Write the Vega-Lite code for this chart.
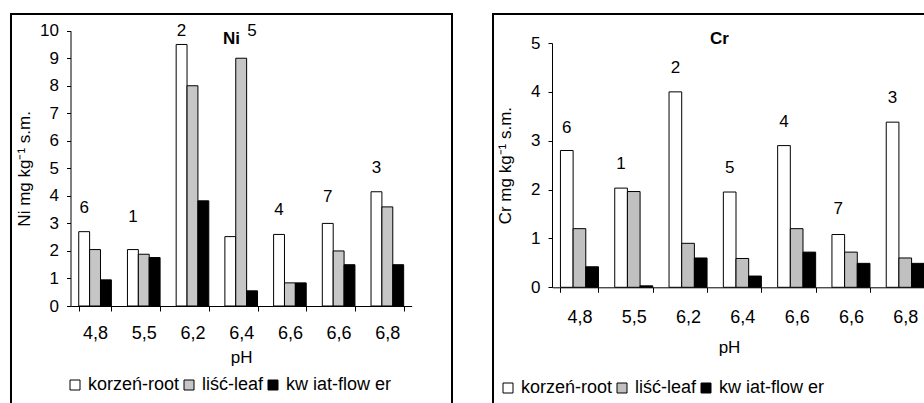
{
  "$schema": "https://vega.github.io/schema/vega-lite/v6.json",
  "padding": {"left": 10, "top": 13, "right": 0, "bottom": 0},
  "background": "white",
  "spacing": 39,
  "config": {
    "font": "Liberation Sans",
    "view": {"stroke": "black", "strokeWidth": 2},
    "axis": {
      "domainColor": "black", "tickColor": "black", "labelColor": "black", "titleColor": "black",
      "labelFont": "Liberation Sans", "titleFont": "Liberation Sans",
      "labelFontSize": 17, "titleFontSize": 17, "titleFontWeight": "normal",
      "grid": false, "tickSize": 4, "domainWidth": 1, "tickWidth": 1, "labelOverlap": false
    },
    "legend": {
      "symbolType": "square", "symbolSize": 100, "symbolStrokeColor": "black", "symbolStrokeWidth": 1,
      "labelFont": "Liberation Sans", "labelFontSize": 18, "labelColor": "black",
      "labelOffset": 4, "columnPadding": 0, "padding": 0, "labelLimit": 0
    }
  },
  "datasets": {
    "ni": [
      {"group": "4,8 #6", "part": "korzeń-root", "value": 2.7},
      {"group": "4,8 #6", "part": "liść-leaf", "value": 2.05},
      {"group": "4,8 #6", "part": "kw iat-flow er", "value": 0.95},
      {"group": "5,5 #1", "part": "korzeń-root", "value": 2.05},
      {"group": "5,5 #1", "part": "liść-leaf", "value": 1.88},
      {"group": "5,5 #1", "part": "kw iat-flow er", "value": 1.76},
      {"group": "6,2 #2", "part": "korzeń-root", "value": 9.5},
      {"group": "6,2 #2", "part": "liść-leaf", "value": 8.0},
      {"group": "6,2 #2", "part": "kw iat-flow er", "value": 3.82},
      {"group": "6,4 #5", "part": "korzeń-root", "value": 2.52},
      {"group": "6,4 #5", "part": "liść-leaf", "value": 9.0},
      {"group": "6,4 #5", "part": "kw iat-flow er", "value": 0.55},
      {"group": "6,6 #4", "part": "korzeń-root", "value": 2.6},
      {"group": "6,6 #4", "part": "liść-leaf", "value": 0.84},
      {"group": "6,6 #4", "part": "kw iat-flow er", "value": 0.84},
      {"group": "6,6 #7", "part": "korzeń-root", "value": 3.0},
      {"group": "6,6 #7", "part": "liść-leaf", "value": 2.0},
      {"group": "6,6 #7", "part": "kw iat-flow er", "value": 1.5},
      {"group": "6,8 #3", "part": "korzeń-root", "value": 4.15},
      {"group": "6,8 #3", "part": "liść-leaf", "value": 3.6},
      {"group": "6,8 #3", "part": "kw iat-flow er", "value": 1.5}
    ],
    "niLabels": [
      {"group": "4,8 #6", "part": "korzeń-root", "label": "6", "value": 3.55},
      {"group": "5,5 #1", "part": "korzeń-root", "label": "1", "value": 3.22},
      {"group": "6,2 #2", "part": "korzeń-root", "label": "2", "value": 10.0},
      {"group": "6,4 #5", "part": "kw iat-flow er", "label": "5", "value": 10.0},
      {"group": "6,6 #4", "part": "korzeń-root", "label": "4", "value": 3.48},
      {"group": "6,6 #7", "part": "korzeń-root", "label": "7", "value": 3.95},
      {"group": "6,8 #3", "part": "korzeń-root", "label": "3", "value": 5.0}
    ],
    "cr": [
      {"group": "4,8 #6", "part": "korzeń-root", "value": 2.8},
      {"group": "4,8 #6", "part": "liść-leaf", "value": 1.2},
      {"group": "4,8 #6", "part": "kw iat-flow er", "value": 0.42},
      {"group": "5,5 #1", "part": "korzeń-root", "value": 2.03},
      {"group": "5,5 #1", "part": "liść-leaf", "value": 1.96},
      {"group": "5,5 #1", "part": "kw iat-flow er", "value": 0.03},
      {"group": "6,2 #2", "part": "korzeń-root", "value": 4.0},
      {"group": "6,2 #2", "part": "liść-leaf", "value": 0.9},
      {"group": "6,2 #2", "part": "kw iat-flow er", "value": 0.6},
      {"group": "6,4 #5", "part": "korzeń-root", "value": 1.95},
      {"group": "6,4 #5", "part": "liść-leaf", "value": 0.59},
      {"group": "6,4 #5", "part": "kw iat-flow er", "value": 0.23},
      {"group": "6,6 #4", "part": "korzeń-root", "value": 2.9},
      {"group": "6,6 #4", "part": "liść-leaf", "value": 1.2},
      {"group": "6,6 #4", "part": "kw iat-flow er", "value": 0.72},
      {"group": "6,6 #7", "part": "korzeń-root", "value": 1.08},
      {"group": "6,6 #7", "part": "liść-leaf", "value": 0.72},
      {"group": "6,6 #7", "part": "kw iat-flow er", "value": 0.49},
      {"group": "6,8 #3", "part": "korzeń-root", "value": 3.38},
      {"group": "6,8 #3", "part": "liść-leaf", "value": 0.6},
      {"group": "6,8 #3", "part": "kw iat-flow er", "value": 0.49}
    ],
    "crLabels": [
      {"group": "4,8 #6", "part": "korzeń-root", "label": "6", "value": 3.26},
      {"group": "5,5 #1", "part": "korzeń-root", "label": "1", "value": 2.52},
      {"group": "6,2 #2", "part": "korzeń-root", "label": "2", "value": 4.49},
      {"group": "6,4 #5", "part": "korzeń-root", "label": "5", "value": 2.44},
      {"group": "6,6 #4", "part": "korzeń-root", "label": "4", "value": 3.38},
      {"group": "6,6 #7", "part": "korzeń-root", "label": "7", "value": 1.6},
      {"group": "6,8 #3", "part": "korzeń-root", "label": "3", "value": 3.87}
    ]
  },
  "hconcat": [
    {
      "width": 441,
      "height": 392,
      "title": {"text": "Ni", "fontSize": 17, "fontWeight": "bold", "anchor": "middle", "frame": "group", "offset": -47, "baseline": "alphabetic", "color": "black"},
      "encoding": {
        "x": {"field": "group", "type": "nominal", "sort": ["4,8 #6","5,5 #1","6,2 #2","6,4 #5","6,6 #4","6,6 #7","6,8 #3"],
              "scale": {"range": [59.7, 400.7], "paddingInner": 0.33, "paddingOuter": 0.165},
              "axis": {"title": "pH", "offset": -100, "labelExpr": "split(datum.label, ' #')[0]", "labelAngle": 0, "labelFontSize": 18, "tickBand": "extent", "tickSize": 5, "labelPadding": 13, "titlePadding": 7}},
        "xOffset": {"field": "part", "type": "nominal", "sort": ["korzeń-root","liść-leaf","kw iat-flow er"], "scale": {"paddingInner": 0, "paddingOuter": 0}},
        "y": {"field": "value", "type": "quantitative",
              "scale": {"domain": [0, 10], "range": [292, 16.7], "nice": false},
              "axis": {"title": "Ni mg kg⁻¹ s.m.", "values": [0,1,2,3,4,5,6,7,8,9,10], "format": "d", "labelOverlap": false, "offset": -59.5, "labelPadding": 8, "titlePadding": 6}}
      },
      "layer": [
        {
          "data": {"name": "ni"},
          "mark": {"type": "bar", "stroke": "black", "strokeWidth": 1},
          "encoding": {
            "fill": {"field": "part", "type": "nominal",
                     "scale": {"domain": ["korzeń-root","liść-leaf","kw iat-flow er"], "range": ["#ffffff","#c6c6c6","#000000"]},
                     "legend": {"title": null, "orient": "none", "direction": "horizontal", "legendX": 55, "legendY": 362}}
          }
        },
        {
          "data": {"name": "niLabels"},
          "mark": {"type": "text", "fontSize": 17, "font": "Liberation Sans", "fill": "black", "baseline": "middle", "align": "center"},
          "encoding": {
            "text": {"field": "label"}
          }
        }
      ]
    },
    {
      "width": 441,
      "height": 392,
      "title": {"text": "Cr", "fontSize": 17, "fontWeight": "bold", "anchor": "middle", "frame": "group", "offset": -47, "baseline": "alphabetic", "dx": 6, "color": "black"},
      "encoding": {
        "x": {"field": "group", "type": "nominal", "sort": ["4,8 #6","5,5 #1","6,2 #2","6,4 #5","6,6 #4","6,6 #7","6,8 #3"],
              "scale": {"range": [59.3, 439.4], "paddingInner": 0.3, "paddingOuter": 0.15},
              "axis": {"title": "pH", "offset": -118.7, "labelExpr": "split(datum.label, ' #')[0]", "labelAngle": 0, "labelFontSize": 18, "tickBand": "extent", "tickSize": 5, "labelPadding": 16, "titlePadding": 13, "titleX": 236}},
        "xOffset": {"field": "part", "type": "nominal", "sort": ["korzeń-root","liść-leaf","kw iat-flow er"], "scale": {"paddingInner": 0, "paddingOuter": 0}},
        "y": {"field": "value", "type": "quantitative",
              "scale": {"domain": [0, 5], "range": [273.3, 29], "nice": false},
              "axis": {"title": "Cr mg kg⁻¹ s.m.", "values": [0,1,2,3,4,5], "format": "d", "labelOverlap": false, "offset": -59, "labelPadding": 8, "titlePadding": 16}}
      },
      "layer": [
        {
          "data": {"name": "cr"},
          "mark": {"type": "bar", "stroke": "black", "strokeWidth": 1},
          "encoding": {
            "fill": {"field": "part", "type": "nominal",
                     "scale": {"domain": ["korzeń-root","liść-leaf","kw iat-flow er"], "range": ["#ffffff","#c0c0c0","#000000"]},
                     "legend": {"title": null, "orient": "none", "direction": "horizontal", "legendX": 6, "legendY": 365}}
          }
        },
        {
          "data": {"name": "crLabels"},
          "mark": {"type": "text", "fontSize": 17, "font": "Liberation Sans", "fill": "black", "baseline": "middle", "align": "center"},
          "encoding": {
            "text": {"field": "label"}
          }
        }
      ]
    }
  ],
  "resolve": {
    "scale": {"x": "independent", "y": "independent", "xOffset": "independent", "fill": "independent"},
    "legend": {"fill": "independent"}
  }
}
